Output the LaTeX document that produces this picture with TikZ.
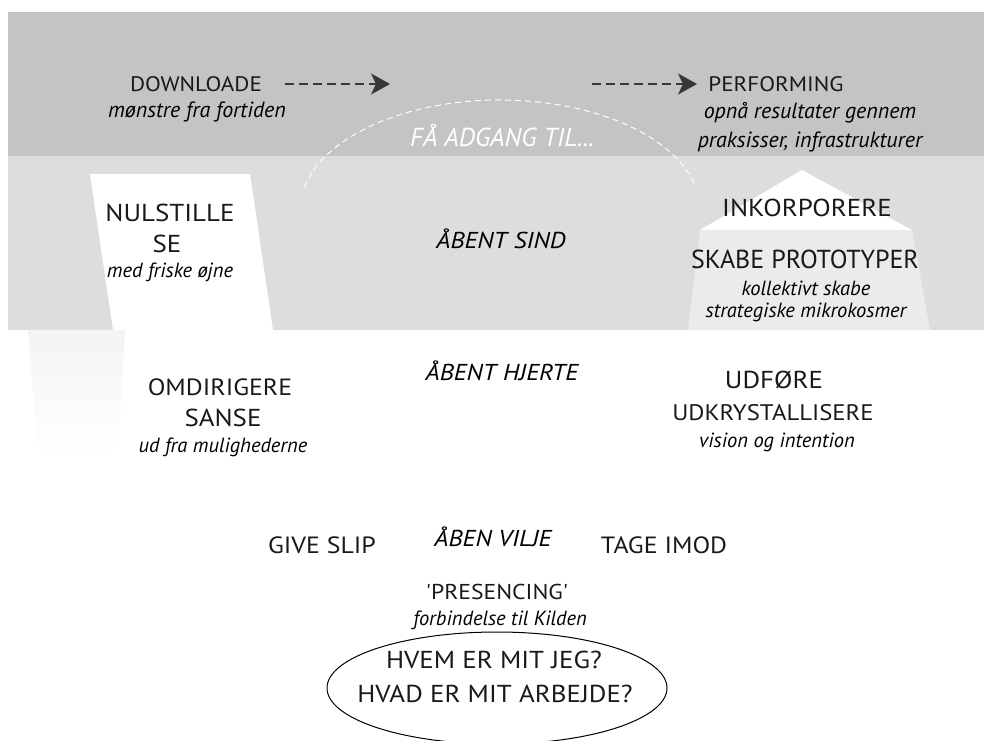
\documentclass[tikz,border=0pt]{standalone}
\usepackage{fontspec}
\setmainfont{PT Sans}
\newfontfamily\widefont[FakeStretch=1.1]{PT Sans}
\usetikzlibrary{arrows.meta}
\definecolor{banddark}{gray}{0.77}
\definecolor{bandlight}{gray}{0.865}
\definecolor{bandpale}{gray}{0.92}
\definecolor{ink}{gray}{0.1}
\definecolor{tipgray}{gray}{0.22}
\begin{document}
\begin{tikzpicture}[x=1pt,y=-1pt,
  caps/.style={font=\widefont\fontsize{24.5}{28}\selectfont, text=ink, inner sep=0pt, anchor=center},
  topcaps/.style={font=\widefont\fontsize{21}{25}\selectfont, text=ink, inner sep=0pt, anchor=center},
  bigcaps/.style={font=\fontsize{26}{30}\selectfont, text=ink, inner sep=0pt, anchor=center},
  note/.style={font=\fontsize{20.5}{24}\selectfont\itshape, text=black, inner sep=0pt, anchor=center},
  topnote/.style={font=\fontsize{22}{26}\selectfont\itshape, text=black, inner sep=0pt, anchor=center},
  stance/.style={font=\widefont\fontsize{23}{27}\selectfont\itshape, text=black, inner sep=0pt, anchor=center},
  flow/.style={draw=tipgray, line width=2pt, dash pattern=on 9pt off 5pt,
    -{Stealth[length=19pt,width=21pt,inset=5pt,fill=tipgray]}},
  arcline/.style={draw=white, line width=1pt, dash pattern=on 6pt off 4pt}]
\useasboundingbox (0,0) rectangle (984,740);
\clip (0,0) rectangle (984,740);

% background bands
\fill[banddark] (8,12) rectangle (984,156);
\fill[bandlight] (8,156) rectangle (984,330);
% light cut-outs inside the lower band
\fill[white] (90,174) -- (250,174) -- (273,330) -- (113,330) -- cycle;
\shade[top color=gray!9, bottom color=white] (28,330) -- (125,330) -- (118,455) -- (38,455) -- cycle;
\fill[white] (802,170) -- (912,230) -- (700,230) -- cycle;
\fill[bandpale] (700,230) -- (912,230) -- (930,330) -- (688,330) -- cycle;

% dashed arc of the U opening
\draw[arcline] (304.4,187.1) arc[start angle=168, end angle=12, x radius=200pt, y radius=110pt];

% top row
\node[topcaps] (dl) at (196,84) {DOWNLOADE};
\node[topnote] (dlsub) at (197,112) {mønstre fra fortiden};
\node[topcaps] (perf) at (776,84) {PERFORMING};
\node[topnote] (perfsub1) at (810,113) {opnå resultater gennem};
\node[topnote] (perfsub2) at (810,142) {praksisser, infrastrukturer};
\node[font=\fontsize{26}{30}\selectfont\itshape, text=white, inner sep=0pt] (fa) at (502,136) {FÅ ADGANG TIL...};

\coordinate (a1s) at (285,84);
\coordinate (a1e) at (390,84);
\coordinate (a2s) at (592,84);
\coordinate (a2e) at (697,84);
\draw[flow] (a1s) -- (a1e);
\draw[flow] (a2s) -- (a2e);

% second row
\node[caps] (nul) at (170,213) {NULSTILLE};
\node[caps] (se) at (167,244) {SE};
\node[note] (sesub) at (170,272) {med friske øjne};
\node[stance] (sind) at (501,239) {ÅBENT SIND};
\node[caps] (ink) at (807,208) {INKORPORERE};
\node[bigcaps] (skabe) at (805,259) {SKABE PROTOTYPER};
\node[note] (skabesub1) at (806,288) {kollektivt skabe};
\node[note] (skabesub2) at (806,312) {strategiske mikrokosmer};

% third row
\node[caps, font=\widefont\fontsize{23.5}{27}\selectfont] (omd) at (220,387) {OMDIRIGERE};
\node[caps] (sanse) at (223,418) {SANSE};
\node[note] (sansesub) at (223,447) {ud fra mulighederne};
\node[stance] (hjerte) at (502,371) {ÅBENT HJERTE};
\node[caps] (udf) at (774,380) {UDFØRE};
\node[caps, font=\widefont\fontsize{22.5}{26}\selectfont] (udk) at (773,413) {UDKRYSTALLISERE};
\node[note] (udksub) at (777,442) {vision og intention};

% bottom of the U
\node[caps, font=\widefont\fontsize{23.5}{27}\selectfont] (give) at (322,545) {GIVE SLIP};
\node[stance] (vilje) at (493,537) {ÅBEN VILJE};
\node[caps, font=\widefont\fontsize{23.5}{27}\selectfont] (tage) at (664,545) {TAGE IMOD};
\node[caps, font=\widefont\fontsize{21.5}{25}\selectfont] (pres) at (497,592) {'PRESENCING'};
\node[note] (pressub) at (500,620) {forbindelse til Kilden};

\draw[black, line width=1pt] (497,688) ellipse [x radius=170pt, y radius=56pt];
\node[caps] (q1) at (494,660) {HVEM ER MIT JEG?};
\node[caps] (q2) at (495,694) {HVAD ER MIT ARBEJDE?};
\end{tikzpicture}
\end{document}
